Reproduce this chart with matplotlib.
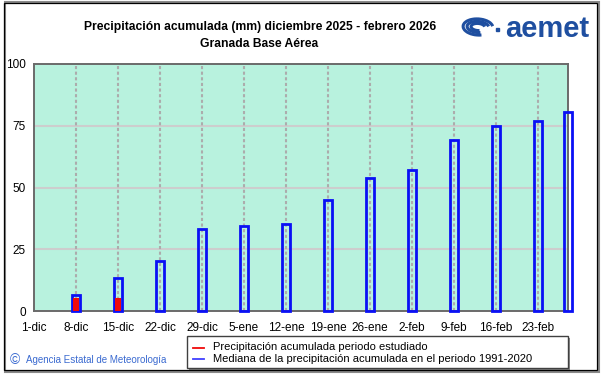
import pandas as pd
import matplotlib
matplotlib.use("Agg")
import matplotlib.pyplot as plt
from matplotlib.patches import Rectangle, Arc

plt.rcParams['font.family'] = ['Liberation Sans', 'DejaVu Sans']

# data
tick_dates = pd.date_range("2025-12-01", "2026-02-23", freq="7D")
tick_labels = ["1-dic", "8-dic", "15-dic", "22-dic", "29-dic", "5-ene", "12-ene",
               "19-ene", "26-ene", "2-feb", "9-feb", "16-feb", "23-feb"]
median_dates = pd.to_datetime(["2025-12-08", "2025-12-15", "2025-12-22", "2025-12-29",
                               "2026-01-05", "2026-01-12", "2026-01-19", "2026-01-26",
                               "2026-02-02", "2026-02-09", "2026-02-16", "2026-02-23",
                               "2026-02-28"])
median_values = [6.3, 13.4, 20.2, 33.4, 34.4, 35.4, 45.0, 53.7, 57.0, 69.1, 74.9, 76.9, 80.4]
studied_dates = pd.to_datetime(["2025-12-08", "2025-12-15"])
studied_values = [5.1, 5.1]

green_bg = "#b8f2de"
blue = "#0a10f5"
red = "#f00a0a"

fig = plt.figure(figsize=(6.01, 3.74), dpi=100)
ax = fig.add_axes([34 / 601, 63 / 374, 534 / 601, 247 / 374])
ax.set_facecolor(green_bg)

ax.set_xlim(pd.Timestamp("2025-12-01"), pd.Timestamp("2026-02-28"))
ax.set_ylim(0, 100)

# grid
for y in [25, 50, 75]:
    ax.axhline(y, color="#cdcdcd", lw=1.5, zorder=1)
for d in tick_dates[1:]:
    ax.axvline(d, color="#acacac", lw=1.5, ls=(0, (1.5, 1.2)), zorder=1)

# median bars (blue outline), studied period bars (red)
ax.bar(median_dates, median_values, width=1.25, facecolor="none", edgecolor=blue,
       linewidth=2, zorder=3, clip_on=False)
ax.bar(studied_dates, studied_values, width=0.85, color=red, zorder=4)

for s in ax.spines.values():
    s.set_color("#6a6a6a")
    s.set_linewidth(1.4)

ax.set_xticks(tick_dates)
ax.set_xticklabels(tick_labels, fontsize=8.5)
ax.set_yticks([0, 25, 50, 75, 100])
ax.set_yticklabels(["0", "25", "50", "75", "100"], fontsize=8.5)
ax.tick_params(length=0, pad=6)
ax.tick_params(axis="x", pad=8)

# titles
fig.text(260 / 601, 1 - 27 / 374, "Precipitación acumulada (mm) diciembre 2025 - febrero 2026",
         ha="center", va="center", fontsize=8.7, fontweight="bold")
fig.text(259 / 601, 1 - 44 / 374, "Granada Base Aérea", ha="center", va="center",
         fontsize=8.7, fontweight="bold")

# aemet logo (approximation)
logo_blue = "#1f4fa0"
fig.text(547 / 601, 1 - 29 / 374, "aemet", ha="center", va="center", fontsize=21,
         fontweight="bold", color=logo_blue)
for w, h in [(30, 16), (22, 11), (14, 7)]:
    fig.add_artist(Arc((478 / 601, 1 - 27 / 374), w / 601, h / 374, angle=-15,
                       theta1=20, theta2=300, color=logo_blue, lw=2.2,
                       transform=fig.transFigure))
fig.add_artist(Rectangle((496 / 601, 1 - 31 / 374), 3 / 601, 3 / 374,
                         color=logo_blue, transform=fig.transFigure))

# legend box
fig.add_artist(Rectangle((189 / 601, 1 - 370 / 374), 381 / 601, 32 / 374,
                         facecolor="#8a8a8a", edgecolor="none", transform=fig.transFigure))
fig.add_artist(Rectangle((187 / 601, 1 - 368 / 374), 381 / 601, 32 / 374,
                         facecolor="white", edgecolor="#404040", lw=1,
                         transform=fig.transFigure))
fig.add_artist(plt.Line2D([193 / 601, 204 / 601], [1 - 348 / 374] * 2, color=red, lw=1.3))
fig.add_artist(plt.Line2D([193 / 601, 204 / 601], [1 - 359 / 374] * 2, color="#4040ff", lw=1.3))
fig.text(213 / 601, 1 - 347 / 374, "Precipitación acumulada periodo estudiado",
         ha="left", va="center", fontsize=8)
fig.text(213 / 601, 1 - 359 / 374, "Mediana de la precipitación acumulada en el periodo 1991-2020",
         ha="left", va="center", fontsize=8)

# copyright
fig.text(10 / 601, 1 - 360 / 374, "©", ha="left", va="center", fontsize=10, color="#3a6ad0")
fig.text(26 / 601, 1 - 360 / 374, "Agencia Estatal de Meteorología", ha="left", va="center",
         fontsize=7, color="#3a6ad0")

# outer frame
fig.add_artist(Rectangle((5 / 601, 1 - 372 / 374), 594 / 601, 370 / 374, facecolor="none",
                         edgecolor="#8a8a8a", lw=1.5, transform=fig.transFigure))
fig.add_artist(Rectangle((4 / 601, 1 - 370 / 374), 593 / 601, 367 / 374, facecolor="none",
                         edgecolor="black", lw=0.9, transform=fig.transFigure))

fig.savefig("out.png", dpi=100)
